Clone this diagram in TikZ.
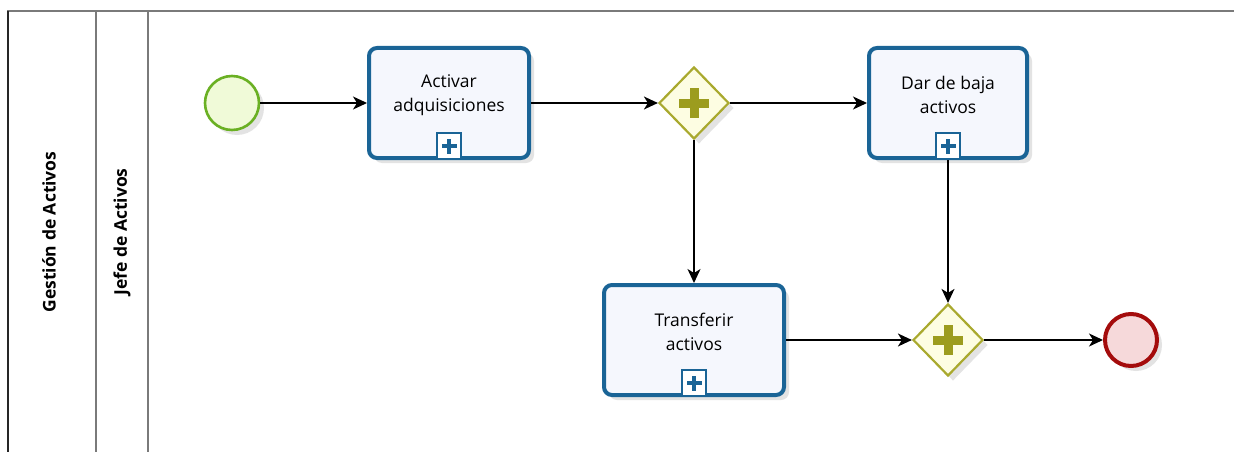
\documentclass[tikz,border=0pt]{standalone}
\usepackage{fontspec}
\setmainfont{Open Sans}
\usetikzlibrary{shapes.geometric,arrows.meta,shadows,calc}
\definecolor{taskblue}{HTML}{1A6496}
\definecolor{taskfill}{HTML}{F5F7FD}
\definecolor{gwline}{HTML}{A9A92E}
\definecolor{gwfill}{HTML}{FDFDE2}
\definecolor{gwplus}{HTML}{9C9C1E}
\definecolor{startline}{HTML}{6AB023}
\definecolor{startfill}{HTML}{F0FAD8}
\definecolor{endline}{HTML}{A40C0C}
\definecolor{endfill}{HTML}{F6D9DA}
\definecolor{poolgray}{HTML}{7A7A7A}
\tikzset{
  shad/.style={drop shadow={shadow xshift=5pt,shadow yshift=-5pt,opacity=0.18,fill=black!60}},
  taskbox/.style={draw=taskblue,line width=4pt,fill=taskfill,rounded corners=8pt,
    minimum width=#1,minimum height=110pt,inner sep=0pt,shad},
  tasktext/.style={align=center,inner sep=0pt,font=\fontsize{17.5}{24}\selectfont},
  gwbox/.style={diamond,draw=gwline,line width=2.2pt,fill=gwfill,minimum width=70pt,
    minimum height=72pt,inner sep=0pt,shad},
  startev/.style={circle,draw=startline,line width=2.6pt,fill=startfill,minimum size=54pt,inner sep=0pt,shad},
  endev/.style={circle,draw=endline,line width=4pt,fill=endfill,minimum size=52pt,inner sep=0pt,shad},
  flow/.style={draw=black,line width=1.6pt,-{Stealth[length=14pt,width=13pt,inset=4pt]}},
  lanelabel/.style={rotate=90,font=\bfseries\fontsize{17.5}{19}\selectfont},
  pline/.style={draw=poolgray,line width=1.8pt}
}
\newcommand{\submarker}[1]{%
  \draw[taskblue,line width=2.2pt,fill=white] ($(#1.south)+(-12,-1)$) rectangle ($(#1.south)+(12,-27)$);
  \fill[taskblue] ($(#1.south)+(-7.5,-12)$) rectangle ($(#1.south)+(7.5,-16)$);
  \fill[taskblue] ($(#1.south)+(-2,-6.5)$) rectangle ($(#1.south)+(2,-21.5)$);
}
\newcommand{\gwplusmark}[1]{%
  \fill[gwplus] ($(#1.center)+(-15,-4.5)$) rectangle ($(#1.center)+(15,4.5)$);
  \fill[gwplus] ($(#1.center)+(-4.5,-15)$) rectangle ($(#1.center)+(4.5,15)$);
}
\begin{document}
\begin{tikzpicture}[x=1pt,y=-1pt]
\useasboundingbox (0,0) rectangle (1234,452);
% pool and lanes
\draw[pline] (7,11) -- (1234,11);
\draw[draw=black!85,line width=2pt] (8,11) -- (8,452);
\draw[pline] (96,11) -- (96,452);
\draw[pline] (148,11) -- (148,452);
\node[lanelabel] (pool) at (49,232) {Gestión de Activos};
\node[lanelabel] (lane) at (122,232) {Jefe de Activos};
% nodes
\node[startev] (start) at (232,103) {};
\node[taskbox=160pt] (t1) at (449,103) {};
\node[tasktext] (t1txt) at ($(t1.center)+(0,-8)$) {Activar\\adquisiciones};
\node[gwbox] (g1) at (694,103) {};
\node[taskbox=158pt] (t2) at (948,103) {};
\node[tasktext] (t2txt) at ($(t2.center)+(0,-8)$) {Dar de baja\\activos};
\node[taskbox=180pt] (t3) at (694,340) {};
\node[tasktext] (t3txt) at ($(t3.center)+(0,-8)$) {Transferir\\activos};
\node[gwbox] (g2) at (948,340) {};
\node[endev] (end) at (1131,340) {};
\submarker{t1}
\submarker{t2}
\submarker{t3}
\gwplusmark{g1}
\gwplusmark{g2}
% flows
\draw[flow] (start.east) -- (t1.west);
\draw[flow] (t1.east) -- (g1.west);
\draw[flow] (g1.east) -- (t2.west);
\draw[flow] (g1.south) -- (t3.north);
\draw[flow] (t2.south) -- (g2.north);
\draw[flow] (t3.east) -- (g2.west);
\draw[flow] (g2.east) -- (end.west);
\end{tikzpicture}
\end{document}
